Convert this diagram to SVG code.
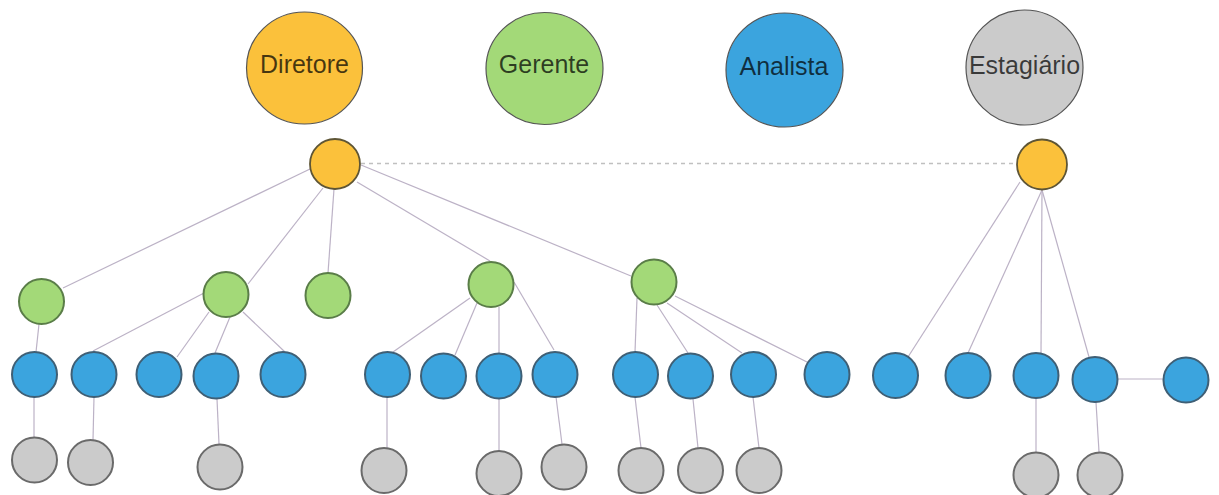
<svg xmlns="http://www.w3.org/2000/svg" width="1219" height="495" viewBox="0 0 1219 495">
<style>
.lg{stroke:#555;stroke-width:1.2}
.o{fill:#fbc13b;stroke:#5e5535;stroke-width:1.8}
.g{fill:#a3d978;stroke:#5a7d48;stroke-width:2}
.b{fill:#3ba4de;stroke:#3f5f75;stroke-width:2}
.y{fill:#cbcbcb;stroke:#6a6a6a;stroke-width:2}
.t{font-family:"Liberation Sans",Arial,sans-serif;font-size:25px;text-anchor:middle;fill:#000;fill-opacity:0.72}
.c line{stroke:#bcb2c6;stroke-width:1.2}
.c line.d{stroke:#c0c0c0;stroke-width:1.6;stroke-dasharray:4 4}
</style>
<rect width="1219" height="495" fill="#fff"/>
<g id="connectors" class="c">
<line class="d" x1="361" y1="163.5" x2="1017" y2="163.5"/>
<line x1="310" y1="169" x2="63" y2="288"/>
<line x1="323" y1="188" x2="248" y2="284"/>
<line x1="334" y1="189" x2="328" y2="273"/>
<line x1="357" y1="182" x2="490" y2="261"/>
<line x1="361" y1="165" x2="631" y2="276"/>
<line x1="39" y1="324" x2="36" y2="352"/>
<line x1="204" y1="293" x2="93" y2="351"/>
<line x1="209" y1="312" x2="177" y2="357"/>
<line x1="230" y1="317" x2="215" y2="353"/>
<line x1="243" y1="312" x2="285" y2="352"/>
<line x1="470" y1="298" x2="393" y2="352"/>
<line x1="477" y1="303" x2="455" y2="355"/>
<line x1="499" y1="307" x2="499" y2="353"/>
<line x1="514" y1="282" x2="554" y2="350"/>
<line x1="637" y1="298" x2="635" y2="352"/>
<line x1="657" y1="305" x2="688" y2="353"/>
<line x1="667" y1="303" x2="742" y2="353"/>
<line x1="675" y1="296" x2="807" y2="362"/>
<line x1="1020" y1="182" x2="908" y2="357"/>
<line x1="1042" y1="190" x2="968" y2="353"/>
<line x1="1042" y1="190" x2="1041" y2="353"/>
<line x1="1042" y1="190" x2="1089" y2="357"/>
<line x1="1118" y1="379" x2="1163" y2="379"/>
<line x1="34" y1="397" x2="34" y2="437"/>
<line x1="94" y1="397" x2="93" y2="440"/>
<line x1="217" y1="399" x2="219" y2="444"/>
<line x1="387" y1="397" x2="387" y2="448"/>
<line x1="499" y1="399" x2="499" y2="451"/>
<line x1="556" y1="397" x2="562" y2="444"/>
<line x1="635" y1="397" x2="641" y2="448"/>
<line x1="693" y1="399" x2="698" y2="448"/>
<line x1="753" y1="397" x2="759" y2="448"/>
<line x1="1036" y1="398" x2="1036" y2="452"/>
<line x1="1096" y1="402" x2="1099" y2="452"/>
</g>
<g id="legend-diretore"><ellipse class="lg" cx="304.5" cy="68" rx="58" ry="56" fill="#fbc13b"/><text class="t" x="304.5" y="73">Diretore</text></g>
<g id="legend-gerente"><ellipse class="lg" cx="544.5" cy="68.5" rx="58.5" ry="56" fill="#a3d978"/><text class="t" x="544" y="73">Gerente</text></g>
<g id="legend-analista"><ellipse class="lg" cx="784.5" cy="70" rx="58.5" ry="57" fill="#3ba4de"/><text class="t" x="784" y="75">Analista</text></g>
<g id="legend-estagiario"><ellipse class="lg" cx="1024.5" cy="67.5" rx="58.5" ry="57.5" fill="#cbcbcb"/><text class="t" x="1024.5" y="74">Estagiário</text></g>
<g id="root"><circle class="o" cx="335" cy="164" r="25"/></g>
<g id="root2"><circle class="o" cx="1042" cy="164.5" r="25"/></g>
<g id="g1"><circle class="g" cx="41.5" cy="301.5" r="22.5"/></g>
<g id="g2"><circle class="g" cx="226" cy="294.5" r="22.5"/></g>
<g id="g3"><circle class="g" cx="328" cy="295.5" r="22.5"/></g>
<g id="g4"><circle class="g" cx="491" cy="284.5" r="22.5"/></g>
<g id="g5"><circle class="g" cx="654" cy="282" r="22.5"/></g>
<g id="b1"><circle class="b" cx="34.5" cy="374.5" r="22.5"/></g>
<g id="b2"><circle class="b" cx="94" cy="374.5" r="22.5"/></g>
<g id="b3"><circle class="b" cx="159" cy="374.5" r="22.5"/></g>
<g id="b4"><circle class="b" cx="216" cy="376" r="22.5"/></g>
<g id="b5"><circle class="b" cx="283" cy="374.5" r="22.5"/></g>
<g id="b6"><circle class="b" cx="387.5" cy="374.5" r="22.5"/></g>
<g id="b7"><circle class="b" cx="443.5" cy="376" r="22.5"/></g>
<g id="b8"><circle class="b" cx="499" cy="376" r="22.5"/></g>
<g id="b9"><circle class="b" cx="555" cy="374.5" r="22.5"/></g>
<g id="b10"><circle class="b" cx="635.5" cy="374.5" r="22.5"/></g>
<g id="b11"><circle class="b" cx="690.5" cy="376" r="22.5"/></g>
<g id="b12"><circle class="b" cx="753.5" cy="374.5" r="22.5"/></g>
<g id="b13"><circle class="b" cx="827" cy="374.5" r="22.5"/></g>
<g id="b14"><circle class="b" cx="895.5" cy="375.5" r="22.5"/></g>
<g id="b15"><circle class="b" cx="968" cy="375.5" r="22.5"/></g>
<g id="b16"><circle class="b" cx="1036" cy="375.5" r="22.5"/></g>
<g id="b17"><circle class="b" cx="1095" cy="379.5" r="22.5"/></g>
<g id="b18"><circle class="b" cx="1186" cy="380" r="22.5"/></g>
<g id="e1"><circle class="y" cx="34.5" cy="460" r="22.5"/></g>
<g id="e2"><circle class="y" cx="90.5" cy="462.5" r="22.5"/></g>
<g id="e3"><circle class="y" cx="220" cy="467" r="22.5"/></g>
<g id="e4"><circle class="y" cx="384" cy="470.5" r="22.5"/></g>
<g id="e5"><circle class="y" cx="499" cy="473.5" r="22.5"/></g>
<g id="e6"><circle class="y" cx="564" cy="467" r="22.5"/></g>
<g id="e7"><circle class="y" cx="641" cy="470.5" r="22.5"/></g>
<g id="e8"><circle class="y" cx="700.5" cy="470.5" r="22.5"/></g>
<g id="e9"><circle class="y" cx="759" cy="470.5" r="22.5"/></g>
<g id="e10"><circle class="y" cx="1036" cy="475" r="22.5"/></g>
<g id="e11"><circle class="y" cx="1100" cy="475" r="22.5"/></g>
</svg>
